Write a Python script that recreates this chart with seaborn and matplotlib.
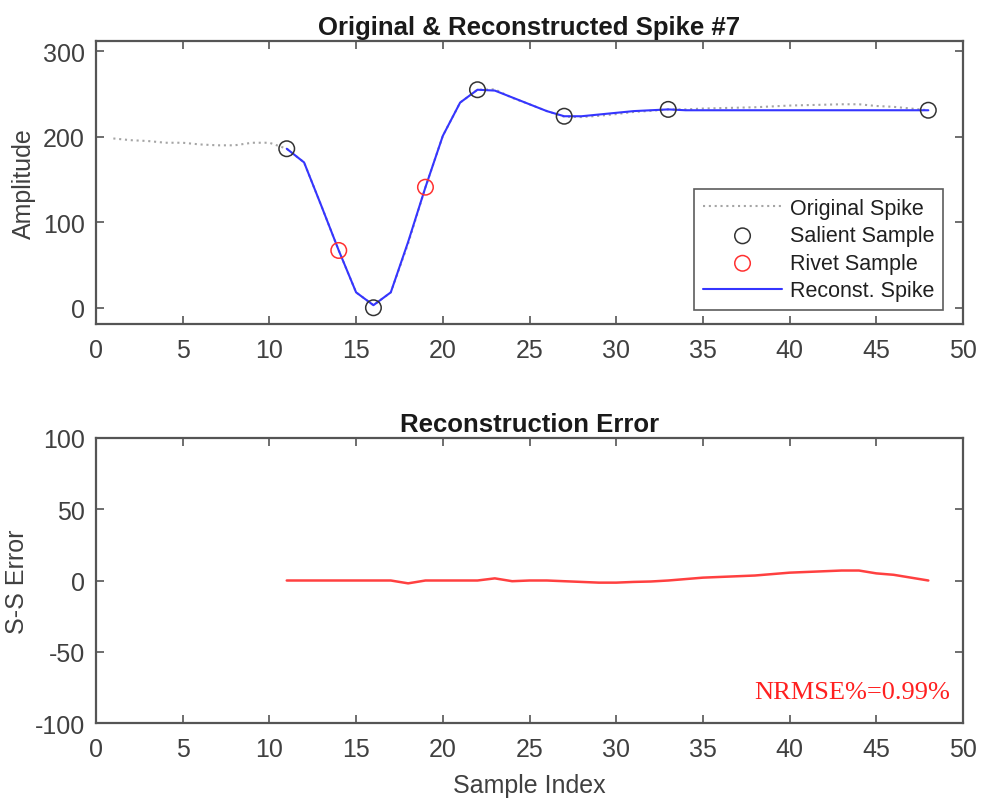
import numpy as np
import pandas as pd
import matplotlib
matplotlib.use("Agg")
import matplotlib.pyplot as plt
import seaborn as sns

# ---- data ----
orig_idx = list(range(1, 49))
orig_val = [198, 196, 195, 193, 193, 191, 190, 190, 193, 193,
            186, 170, 119, 67, 18, 3, 18, 75, 141, 201,
            240, 255, 255.5, 245.5, 238, 230, 223.5, 223, 224.5, 226.5,
            229, 230.3, 232, 232, 233, 233.5, 234, 234.5, 235.5, 236.5,
            237, 237.5, 238, 238, 236, 235, 233, 231]
rec_idx = list(range(11, 49))
rec_val = [186, 170, 119, 67, 18, 3, 18, 77, 141, 201,
           240, 255, 254, 246, 238, 230, 224, 224, 226, 228,
           230, 231, 232, 231, 231, 231, 231, 231, 231, 231,
           231, 231, 231, 231, 231, 231, 231, 231]
salient_idx = [11, 16, 22, 27, 33, 48]
salient_val = [186, 0, 255, 224, 232, 231]
rivet_idx = [14, 19]
rivet_val = [67, 141]
err_idx = list(range(11, 49))
err_val = [0, 0, 0, 0, 0, 0, 0, -2, 0, 0,
           0, 0, 1.5, -0.5, 0, 0, -0.5, -1, -1.5, -1.5,
           -1, -0.7, 0, 1, 2, 2.5, 3, 3.5, 4.5, 5.5,
           6, 6.5, 7, 7, 5, 4, 2, 0]
nrmse_text = "NRMSE%=0.99%"
x_ticks = [0, 5, 10, 15, 20, 25, 30, 35, 40, 45, 50]
top_yticks = [0, 100, 200, 300]
bot_yticks = [-100, -50, 0, 50, 100]

sns.set_theme(style="white")
plt.rcParams['font.family'] = ['Liberation Sans', 'DejaVu Sans']
plt.rcParams['axes.unicode_minus'] = False

AX_COL = '#555555'
TXT_COL = '#404040'
FS = 18

fig = plt.figure(figsize=(9.82, 8.03), dpi=100)
ax1 = fig.add_axes([96/982, 1-325/803, 867/982, 283/803])
ax2 = fig.add_axes([96/982, 1-724/803, 867/982, 285/803])

df_o = pd.DataFrame({'x': orig_idx, 'y': orig_val})
df_r = pd.DataFrame({'x': rec_idx, 'y': rec_val})
df_s = pd.DataFrame({'x': salient_idx, 'y': salient_val})
df_v = pd.DataFrame({'x': rivet_idx, 'y': rivet_val})
df_e = pd.DataFrame({'x': err_idx, 'y': err_val})

sns.lineplot(data=df_o, x='x', y='y', ax=ax1, color='#a5a5a5', lw=1.5,
             linestyle=(0, (1.0, 1.8)), label='Original Spike', zorder=2)
sns.scatterplot(data=df_s, x='x', y='y', ax=ax1, marker='o', s=125,
                facecolor='none', edgecolor='#333333', linewidth=1.1,
                label='Salient Sample', zorder=4)
sns.scatterplot(data=df_v, x='x', y='y', ax=ax1, marker='o', s=125,
                facecolor='none', edgecolor='#ff3030', linewidth=1.1,
                label='Rivet Sample', zorder=4)
sns.lineplot(data=df_r, x='x', y='y', ax=ax1, color='#3535ff', lw=1.5,
             label='Reconst. Spike', zorder=3)

sns.lineplot(data=df_e, x='x', y='y', ax=ax2, color='#ff4040', lw=1.8,
             legend=False)

ax1.set_xlim(0, 50)
ax1.set_ylim(-19, 312)
ax2.set_xlim(0, 50)
ax2.set_ylim(-100, 100)
ax1.set_yticks(top_yticks)
ax2.set_yticks(bot_yticks)

for ax in (ax1, ax2):
    ax.set_xticks(x_ticks)
    ax.tick_params(direction='in', length=6, width=1.2, color=AX_COL,
                   top=True, right=True, labelsize=FS, labelcolor=TXT_COL,
                   left=True, bottom=True)
    ax.tick_params(axis='x', pad=10)
    ax.tick_params(axis='y', pad=8)
    for sp in ax.spines.values():
        sp.set_color(AX_COL)
        sp.set_linewidth(1.6)
        sp.set_visible(True)

ax1.set_xlabel('')
ax1.set_ylabel('Amplitude', fontsize=FS, color=TXT_COL, labelpad=5)
ax1.set_title('Original & Reconstructed Spike #7', fontsize=18.5,
              fontweight='bold', color='#1a1a1a', pad=5)
ax2.set_xlabel('Sample Index', fontsize=FS, color=TXT_COL, labelpad=9)
ax2.set_ylabel('S-S Error', fontsize=FS, color=TXT_COL, labelpad=4)
ax2.set_title('Reconstruction Error', fontsize=18.5, fontweight='bold',
              color='#1a1a1a', pad=5)

leg = ax1.legend(loc='lower right', bbox_to_anchor=(1 - 20/867, 14/283),
                 fontsize=15.5, frameon=True, fancybox=False,
                 edgecolor='#333333', handlelength=3.7, borderpad=0.4,
                 labelspacing=0.3, handletextpad=0.35, borderaxespad=0,
                 labelcolor='#202020')
leg.get_frame().set_linewidth(1.2)

ax2.text(0.985, 0.109, nrmse_text, transform=ax2.transAxes, ha='right',
         va='center', fontsize=19, color='#ff2020',
         family=['Liberation Serif', 'DejaVu Serif'])

fig.savefig('out.png', dpi=100)
